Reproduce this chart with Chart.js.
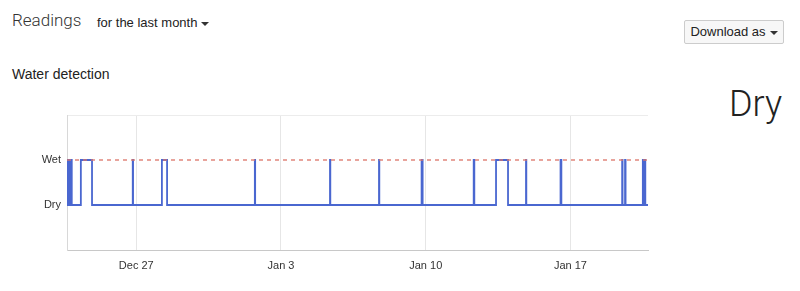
<!DOCTYPE html>
<html>
<head>
<meta charset="utf-8">
<script src="https://cdn.jsdelivr.net/npm/chart.js@4"></script>
<style>
  body { margin: 0; background: #fff; font-family: "Liberation Sans", Arial, sans-serif; color: #333; }
  #page { position: relative; width: 800px; height: 291px; overflow: hidden; }
  .titulo { position: absolute; left: 12px; top: 10px; font-family: Roboto, sans-serif; font-weight: 300; font-size: 17px; color: #333; }
  .periodo { position: absolute; left: 97px; top: 15px; font-size: 13px; color: #222; }
  .caret { display: inline-block; width: 0; height: 0; border-left: 4px solid transparent; border-right: 4px solid transparent; border-top: 4px solid #333; vertical-align: middle; margin-left: 4px; }
  .botao { position: absolute; left: 684px; top: 20px; width: 100px; height: 24px; box-sizing: border-box; border: 1px solid #ccc; border-radius: 2px; background: #f7f7f7; font-size: 13px; line-height: 22px; text-align: center; color: #222; }
  .subtitulo { position: absolute; left: 12px; top: 66px; font-size: 14px; color: #222; }
  .estado { position: absolute; left: 729px; top: 83px; font-family: Roboto, sans-serif; font-weight: 300; font-size: 36px; color: #222; }
  #grafico { position: absolute; left: 0; top: 100px; width: 660px; height: 180px; }
</style>
</head>
<body>
<div id="page">
  <div class="titulo">Readings</div>
  <div class="periodo">for the last month<span class="caret"></span></div>
  <div class="botao">Download as<span class="caret"></span></div>
  <div class="subtitulo">Water detection</div>
  <div class="estado">Dry</div>
  <div id="grafico"><canvas id="graficoAgua"></canvas></div>
</div>
<script>
// dias contados a partir de 27/12 (0 = Dec 27)
var diasLeitura = [-3.35, -3.32, -3.29, -3.26, -3.23, -3.20, -3.17, -3.12, -2.68, -2.14,
  -0.17, -0.155, 1.24, 1.49, 5.735, 5.75, 9.37, 9.385, 11.74, 11.755,
  13.80, 13.85, 16.32, 16.35, 17.40, 17.98, 18.85, 18.865, 20.52, 20.56,
  23.50, 23.52, 23.64, 23.665, 24.50, 24.52, 24.59, 24.62, 24.75];
// 1 = Wet, 0 = Dry
var estadoLeitura = [1, 0, 1, 0, 1, 0, 1, 0, 1, 0,
  1, 0, 1, 0, 1, 0, 1, 0, 1, 0,
  1, 0, 1, 0, 1, 0, 1, 0, 1, 0,
  1, 0, 1, 0, 1, 0, 1, 0, 0];
var limiteMolhado = 1;
var estadoLabels = ['Dry', 'Wet'];
var diasTicks = [0, 7, 14, 21];
var labelsTicks = ['Dec 27', 'Jan 3', 'Jan 10', 'Jan 17'];
var inicio = -3.35;
var fim = 24.75;

var pontos = [];
for (var i = 0; i < diasLeitura.length; i++) {
  pontos.push({ x: diasLeitura[i], y: estadoLeitura[i] });
}

var ctx = document.getElementById('graficoAgua').getContext('2d');
var chart = new Chart(ctx, {
  type: 'line',
  data: {
    datasets: [
      {
        label: 'Limite',
        data: [{ x: inicio, y: limiteMolhado }, { x: fim, y: limiteMolhado }],
        borderColor: '#dc7468',
        borderWidth: 1.3,
        borderDash: [4, 4],
        pointRadius: 0
      },
      {
        label: 'Water detection',
        data: pontos,
        stepped: 'before',
        borderColor: '#4a67d0',
        borderWidth: 1.8,
        pointRadius: 0
      }
    ]
  },
  options: {
    responsive: true,
    maintainAspectRatio: false,
    animation: false,
    layout: { padding: { top: 15, right: 12 } },
    plugins: {
      legend: { display: false },
      tooltip: { enabled: false }
    },
    scales: {
      x: {
        type: 'linear',
        min: inicio,
        max: fim,
        afterBuildTicks: function (scale) {
          scale.ticks = diasTicks.map(function (v) { return { value: v }; });
        },
        afterFit: function (scale) { scale.height = 30; },
        ticks: {
          padding: 9,
          color: '#333',
          font: { size: 11, family: 'Liberation Sans' },
          callback: function (v) {
            var k = diasTicks.indexOf(v);
            return k >= 0 ? labelsTicks[k] : '';
          }
        },
        grid: { color: '#e6e6e6', drawTicks: false },
        border: { color: '#c8c8c8' }
      },
      y: {
        min: -1,
        max: 2,
        afterBuildTicks: function (scale) {
          scale.ticks = [-1, 0, 1, 2].map(function (v) { return { value: v }; });
        },
        afterFit: function (scale) { scale.width = 67; },
        ticks: {
          padding: 6,
          color: '#333',
          font: { size: 11, family: 'Liberation Sans' },
          callback: function (v) {
            return (v === 0 || v === 1) ? estadoLabels[v] : '';
          }
        },
        grid: {
          drawTicks: false,
          color: function (c) { return c.tick && c.tick.value === 2 ? '#ececec' : 'rgba(0,0,0,0)'; }
        },
        border: { color: '#d8d8d8' }
      }
    }
  }
});
</script>
</body>
</html>
